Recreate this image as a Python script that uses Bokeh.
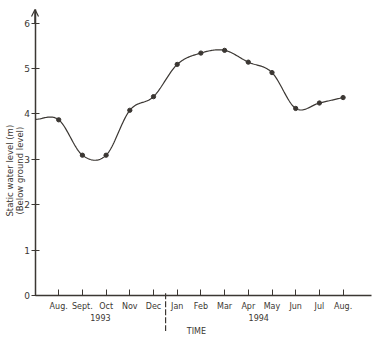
import numpy as np
from bokeh.plotting import figure
from bokeh.models import FixedTicker, Label, Arrow, OpenHead
from bokeh.embed import file_html
from bokeh.resources import INLINE

# ---- data ----
month_labels = ["Aug.", "Sept.", "Oct", "Nov", "Dec", "Jan", "Feb",
                "Mar", "Apr", "May", "Jun", "Jul", "Aug."]
month_pos = list(range(13))
levels = [3.87, 3.09, 3.09, 4.08, 4.38, 5.09, 5.34, 5.40, 5.14, 4.91, 4.12, 4.24, 4.36]
start_pos = -1.0          # curve begins at the y-axis
start_level = 3.88
year_labels = ["1993", "1994"]
year_pos = [1.76, 8.44]
time_pos = 5.81
divider_pos = 4.51
y_ticks = [0, 1, 2, 3, 4, 5, 6]

INK = "#3b3733"
FONT = "DejaVu Sans"


def smooth(xs, ys, n=24):
    """Cubic Hermite (Catmull-Rom) drawing of the hand-drawn curve."""
    xs = np.asarray(xs, float)
    ys = np.asarray(ys, float)
    m = np.zeros_like(ys)
    for i in range(1, len(ys) - 1):
        m[i] = (ys[i + 1] - ys[i - 1]) / (xs[i + 1] - xs[i - 1])
    m[0] = 0.0
    m[-1] = (ys[-1] - ys[-2]) / (xs[-1] - xs[-2])
    ox, oy = [], []
    for i in range(len(xs) - 1):
        h = xs[i + 1] - xs[i]
        t = np.linspace(0, 1, n, endpoint=False)
        h00 = 2 * t**3 - 3 * t**2 + 1
        h10 = t**3 - 2 * t**2 + t
        h01 = -2 * t**3 + 3 * t**2
        h11 = t**3 - t**2
        ox.extend(xs[i] + t * h)
        oy.extend(h00 * ys[i] + h10 * h * m[i] + h01 * ys[i + 1] + h11 * h * m[i + 1])
    ox.append(xs[-1])
    oy.append(ys[-1])
    return ox, oy


cx, cy = smooth([start_pos] + month_pos, [start_level] + levels)

p = figure(width=374, height=336, output_backend="svg", toolbar_location=None,
           x_range=(-2.456, 13.325), y_range=(-0.903, 6.498),
           min_border_left=0, min_border_right=0, min_border_top=0,
           min_border_bottom=0)
p.outline_line_color = None
p.grid.grid_line_color = None
p.background_fill_color = "white"
p.border_fill_color = "white"

p.line(cx, cy, line_color=INK, line_width=1.2)
p.scatter(month_pos, levels, size=4.3, color=INK)

# x axis (drawn at y = 0)
xa = p.xaxis[0]
xa.fixed_location = 0
xa.bounds = (-1.0, 13.2)
xa.ticker = FixedTicker(ticks=month_pos)
xa.major_label_overrides = {i: s for i, s in zip(month_pos, month_labels)}
xa.major_tick_in = 6
xa.major_tick_out = 0
xa.minor_tick_line_color = None
xa.axis_line_color = INK
xa.axis_line_width = 1.5
xa.major_tick_line_color = INK
xa.major_label_text_font = FONT
xa.major_label_text_font_size = "8px"
xa.major_label_text_color = INK
xa.major_label_standoff = 6

# y axis (drawn at x = -1)
ya = p.yaxis[0]
ya.fixed_location = -1.0
ya.bounds = (0, 6.3)
ya.ticker = FixedTicker(ticks=y_ticks)
ya.major_tick_in = 4
ya.major_tick_out = 4
ya.minor_tick_line_color = None
ya.axis_line_color = INK
ya.axis_line_width = 1.5
ya.major_tick_line_color = INK
ya.major_label_text_font = FONT
ya.major_label_text_font_size = "9px"
ya.major_label_text_color = INK
ya.major_label_standoff = 1

p.add_layout(Arrow(end=OpenHead(size=7, line_color=INK, line_width=1.2),
                   x_start=-1.0, y_start=6.0, x_end=-1.0, y_end=6.3,
                   line_color=INK, line_width=1.5))

for yp, yl in zip(year_pos, year_labels):
    p.add_layout(Label(x=yp, y=-0.485, text=yl, text_align="center",
                       text_baseline="middle", text_font=FONT,
                       text_font_size="8px", text_color=INK))
p.add_layout(Label(x=time_pos, y=-0.80, text="TIME", text_align="center",
                   text_baseline="middle", text_font=FONT,
                   text_font_size="8px", text_color=INK))
p.add_layout(Arrow(end=None, x_start=divider_pos, y_start=0.05,
                   x_end=divider_pos, y_end=-0.78, line_color=INK,
                   line_width=1.2, line_dash="6 2"))

for xl, txt in [(-2.05, "Static water level (m)"), (-1.64, "(Below ground level)")]:
    p.add_layout(Label(x=xl, y=2.75, text=txt, angle=np.pi / 2,
                       text_align="center", text_baseline="middle",
                       text_font=FONT, text_font_size="8.5px", text_color=INK))

open("out.html", "w").write(file_html(p, INLINE))
